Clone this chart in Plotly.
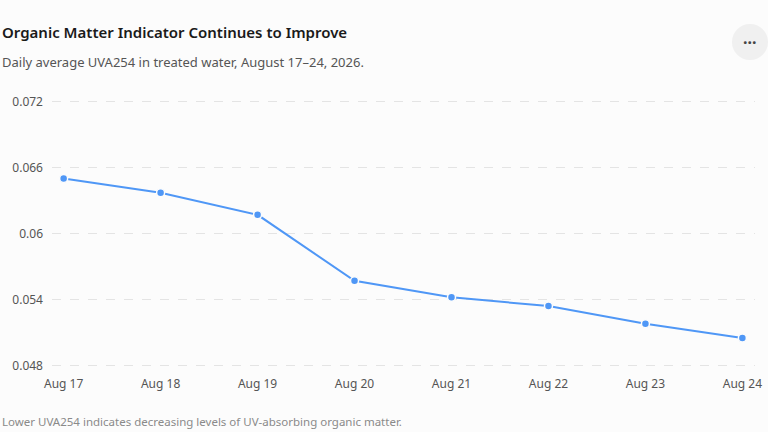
import plotly.graph_objects as go

# daily average UVA254
days = ['Aug 17', 'Aug 18', 'Aug 19', 'Aug 20', 'Aug 21', 'Aug 22', 'Aug 23', 'Aug 24']
uva254 = [0.0650, 0.0637, 0.0617, 0.0557, 0.0542, 0.0534, 0.0518, 0.0505]
y_ticks = [0.048, 0.054, 0.06, 0.066, 0.072]

bg = '#fcfcfc'
line_color = '#4f97f6'
font_family = 'Segoe UI, Noto Sans, Open Sans, sans-serif'

# plot area in pixels: left 52, right 755, top 96, bottom 371
PW, PH = 703, 275

fig = go.Figure()
fig.add_trace(go.Scatter(
    x=days,
    y=uva254,
    mode='lines+markers',
    line=dict(color=line_color, width=2),
    marker=dict(size=8, color=line_color, line=dict(color=bg, width=1.5)),
    hoverinfo='x+y',
))

fig.update_layout(
    width=768,
    height=432,
    margin=dict(l=52, r=13, t=96, b=61),
    paper_bgcolor=bg,
    plot_bgcolor=bg,
    showlegend=False,
    font=dict(family=font_family, color='#555555', size=12),
    xaxis=dict(
        type='category',
        range=[-0.12, 7.13],
        automargin=False,
        showgrid=False,
        showline=False,
        zeroline=False,
        ticks='',
        ticklabelstandoff=4,
        tickfont=dict(size=12, color='#555555'),
    ),
    yaxis=dict(
        # padded so the 0.048 and 0.072 gridlines are drawn
        range=[0.0475, 0.0725],
        automargin=False,
        tickvals=y_ticks,
        ticktext=[str(v) for v in y_ticks],
        showgrid=True,
        gridcolor='#e4e4e4',
        griddash='dash',
        gridwidth=1,
        showline=False,
        zeroline=False,
        ticks='',
        ticklabelstandoff=8,
        tickfont=dict(size=12, color='#555555'),
    ),
)

# header, subtitle and footnote
fig.add_annotation(text='Organic Matter Indicator Continues to Improve',
                   xref='paper', yref='paper', x=-52 / PW, y=1 + 64 / PH,
                   xanchor='left', yanchor='middle', showarrow=False,
                   font=dict(size=15, color='#1a1a1a', weight=600))
fig.add_annotation(text='Daily average UVA254 in treated water, August 17\u201324, 2026.',
                   xref='paper', yref='paper', x=-52 / PW, y=1 + 34 / PH,
                   xanchor='left', yanchor='middle', showarrow=False,
                   font=dict(size=13, color='#555555'))
fig.add_annotation(text='Lower UVA254 indicates decreasing levels of UV-absorbing organic matter.',
                   xref='paper', yref='paper', x=-52 / PW, y=-50 / PH,
                   xanchor='left', yanchor='middle', showarrow=False,
                   font=dict(size=11.5, color='#8a8a8a'))

# the round "more" button at the top right
fig.add_shape(type='circle', xref='paper', yref='paper',
              xsizemode='pixel', ysizemode='pixel', xanchor=1, yanchor=1,
              x0=-23, x1=13, y0=36, y1=72,
              fillcolor='#f0f0f0', line=dict(width=0))
fig.add_annotation(text='\u00b7\u00b7\u00b7', xref='paper', yref='paper',
                   x=1 - 5 / PW, y=1 + 54 / PH, xanchor='center', yanchor='middle',
                   showarrow=False, font=dict(size=16, color='#444444', weight=700))

fig.write_html("out.html", config={'displayModeBar': False},
               post_script="document.body.style.margin='0';document.body.style.overflow='hidden';")
